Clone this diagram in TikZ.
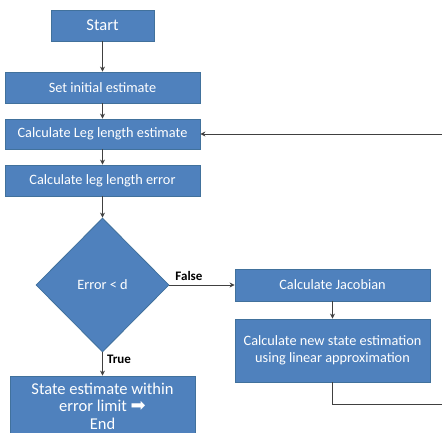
\documentclass[tikz,border=0pt]{standalone}
\usepackage{fontspec}
\setmainfont{Carlito}
\newfontfamily\arrowfont{DejaVu Sans}
\usetikzlibrary{shapes.geometric,arrows.meta}
\definecolor{boxfill}{HTML}{4F81BD}
\definecolor{boxline}{HTML}{41719C}
\definecolor{conn}{HTML}{404040}
\tikzset{
  procbox/.style={draw=boxline, fill=boxfill, line width=0.8pt, text=white, inner sep=1pt, align=center, font=\fontsize{14.3}{16.5}\selectfont},
  decbox/.style={diamond, draw=boxline, fill=boxfill, line width=0.8pt, text=white, inner sep=0pt, minimum width=133pt, minimum height=134pt, font=\fontsize{14.3}{16.5}\selectfont},
  conline/.style={draw=conn, line width=1pt},
  conarrow/.style={conline, -{Stealth[length=5pt,width=5pt]}},
  branchlabel/.style={font=\bfseries\fontsize{13}{15}\selectfont, text=black, inner sep=0pt}
}
\begin{document}
\begin{tikzpicture}[x=1pt,y=-1pt]
\useasboundingbox (0,0) rectangle (442,432);
\begin{scope}
\clip (0,0) rectangle (442,432);
\node[procbox, minimum width=103pt, minimum height=31pt, font=\fontsize{16.5}{18}\selectfont] (start) at (102.5,25.5) {Start};
\node[procbox, minimum width=195pt, minimum height=31pt] (init) at (102.5,87.5) {Set initial estimate};
\node[procbox, minimum width=195pt, minimum height=30pt] (leg) at (102.5,134) {Calculate Leg length estimate};
\node[procbox, minimum width=195pt, minimum height=31pt] (err) at (102.5,180.5) {Calculate leg length error};
\node[decbox] (dec) at (102.5,285) {Error < d};
\node[procbox, minimum width=185pt, minimum height=60pt, font=\fontsize{16.5}{17.5}\selectfont] (fin) at (102.5,406) {State estimate within\\error limit {\arrowfont\fontsize{18}{17}\selectfont ➡}\\End};
\node[procbox, minimum width=195pt, minimum height=32pt] (jac) at (332.5,285) {Calculate Jacobian};
\node[procbox, minimum width=195pt, minimum height=63pt] (new) at (332.5,350.5) {Calculate new state estimation\\using linear approximation};
\coordinate (loopa) at (442,404);
\coordinate (loopb) at (442,134);
\draw[conarrow] (start) -- (init);
\draw[conarrow] (init) -- (leg);
\draw[conarrow] (leg) -- (err);
\draw[conarrow] (err) -- (dec);
\draw[conarrow] (dec) -- node[branchlabel, pos=0.3, anchor=west, xshift=4pt] {True} (fin);
\draw[conarrow] (dec) -- node[branchlabel, pos=0.3, anchor=south, yshift=4pt] {False} (jac);
\draw[conarrow] (jac) -- (new);
\draw[conline] (new.south) |- (loopa);
\draw[conarrow] (loopb) -- (leg.east);
\end{scope}
\end{tikzpicture}
\end{document}
